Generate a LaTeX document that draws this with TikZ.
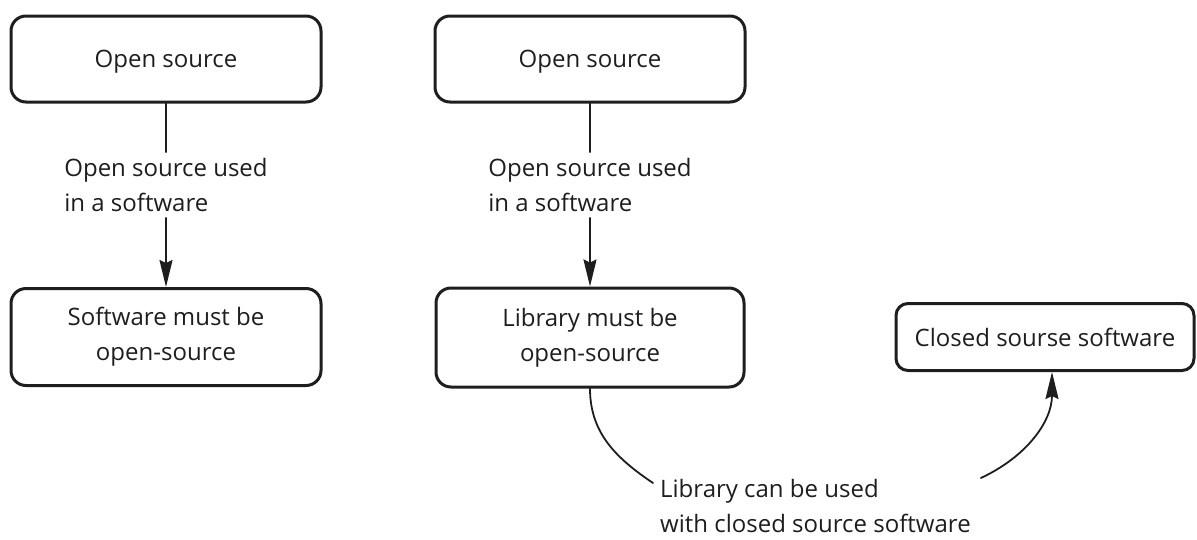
\documentclass[tikz,border=0pt]{standalone}
\usepackage{fontspec}
\setmainfont{Open Sans}
\usetikzlibrary{arrows.meta}
\definecolor{ink}{HTML}{1E1E1E}
\tikzset{
  box/.style={draw=ink, text=ink, line width=3pt, rounded corners=15pt, align=center, inner sep=0pt},
  lbl/.style={text=ink, align=left, inner xsep=0pt, inner ysep=6pt},
  link/.style={draw=ink, line width=1.8pt},
}
\begin{document}
\begin{tikzpicture}[x=1pt,y=1pt,>={Stealth[length=27pt,width=13pt,inset=3pt]},line join=round,line cap=round,font=\fontsize{24}{35}\selectfont]
	\useasboundingbox (0,0) rectangle (1197,-539);
	% left column
	\node[box,text depth=0pt,minimum width=310pt,minimum height=86pt] (os1) at (166,-59) {Open source};
	\node[lbl] (use1) at (166,-185) {Open source used\\in a software};
	\node[box,minimum width=310pt,minimum height=97pt] (sw) at (166,-337) {Software must be\\open-source};
	\draw[link] (os1) -- (use1);
	\draw[link,->] (use1) -- (sw);
	% middle column
	\node[box,text depth=0pt,minimum width=310pt,minimum height=86pt] (os2) at (590,-59) {Open source};
	\node[lbl] (use2) at (590,-185) {Open source used\\in a software};
	\node[box,minimum width=308pt,minimum height=99pt] (lib) at (590,-337.5) {Library must be\\open-source};
	\draw[link] (os2) -- (use2);
	\draw[link,->] (use2) -- (lib);
	% right part
	\node[box,rounded corners=12pt,minimum width=298pt,minimum height=67pt] (closed) at (1045,-337) {Closed sourse software};
	\node[lbl,anchor=north west,inner ysep=0pt] (use3) at (660,-479) {Library can be used\\with closed source software};
	\draw[link] (lib.south) to[out=-90,in=146] ([xshift=-7pt,yshift=-4pt]use3.north west);
	\draw[link,->] ([xshift=10pt,yshift=1pt]use3.north east) to[out=25,in=-90] ([xshift=7pt]closed.south);
\end{tikzpicture}
\end{document}
